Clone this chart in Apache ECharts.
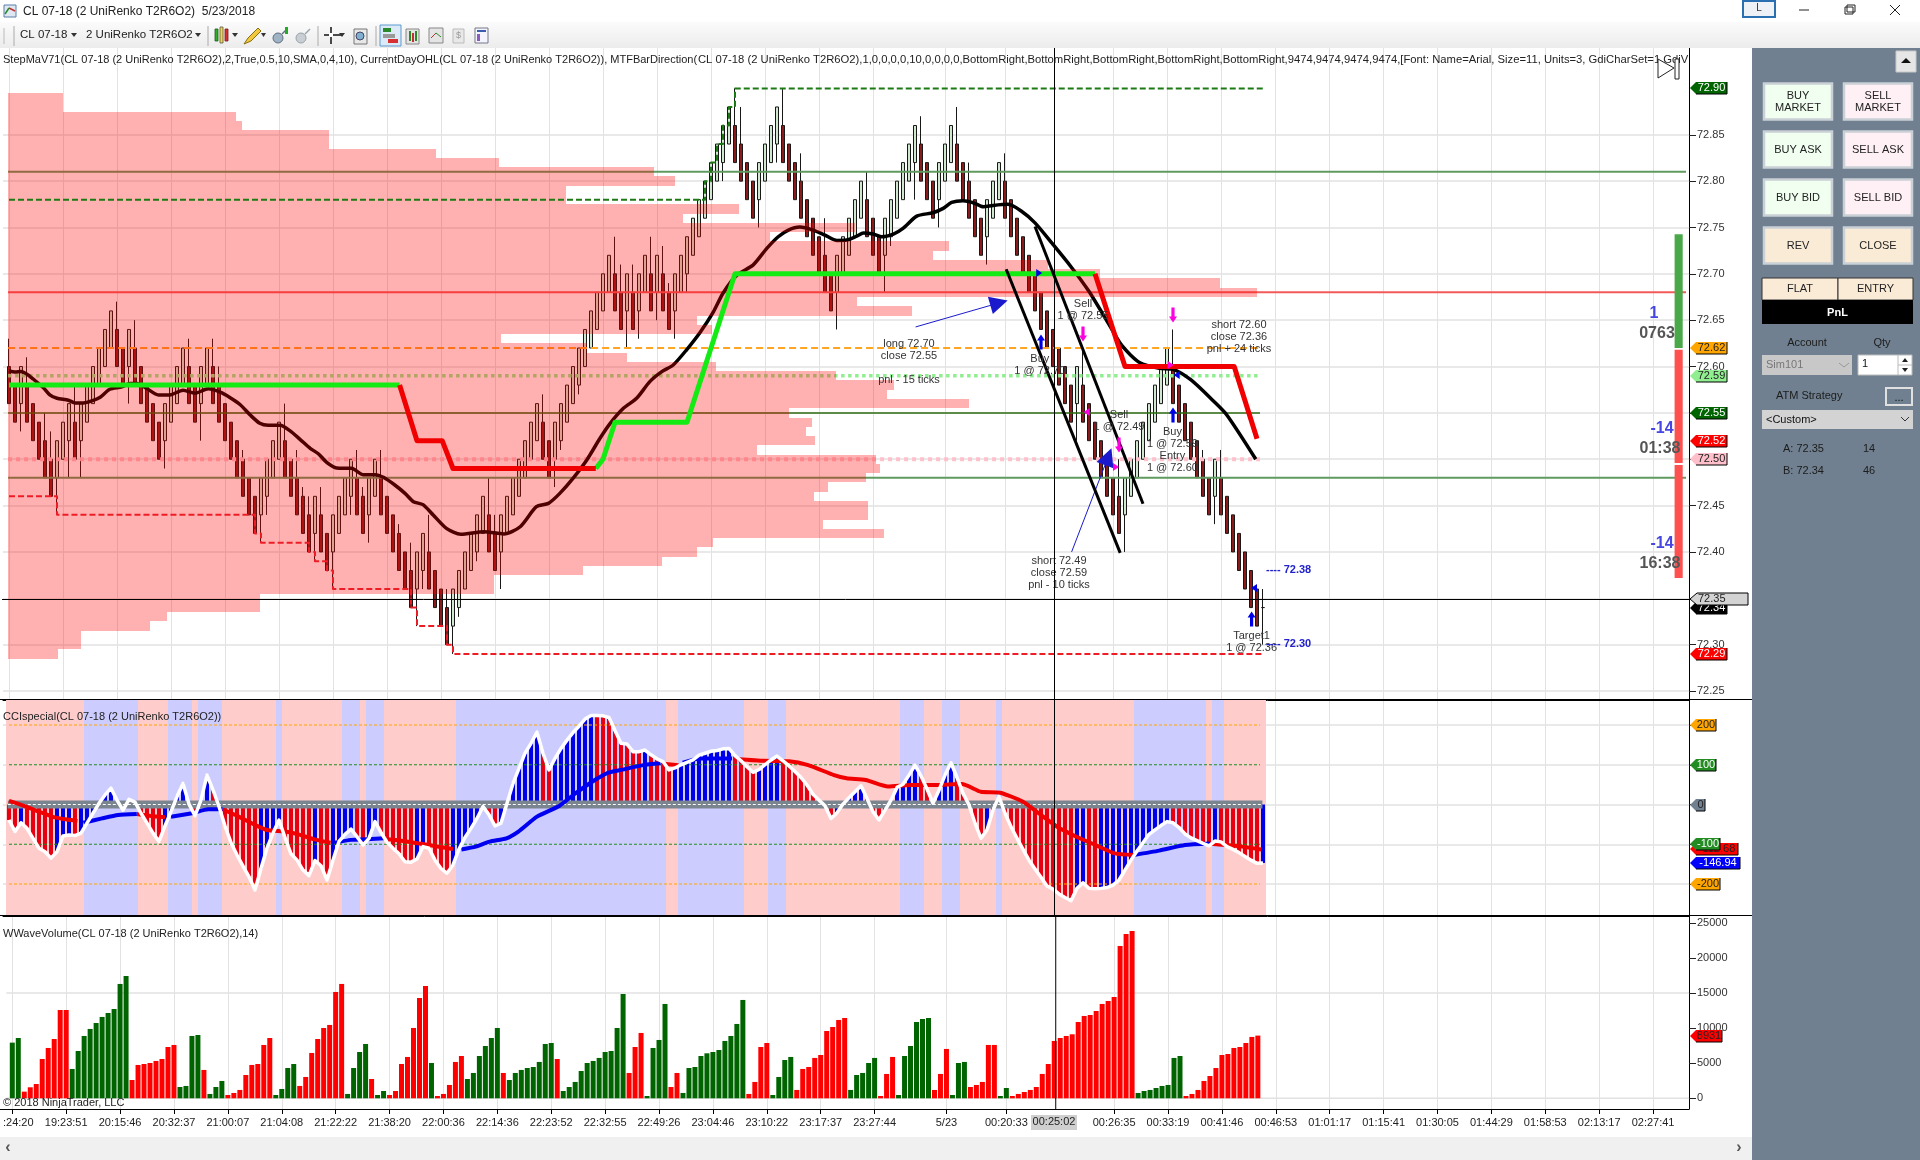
<!DOCTYPE html>
<html><head><meta charset="utf-8">
<style>html,body{margin:0;padding:0;background:#fff}#c{width:1920px;height:1160px}</style>
<script src="https://cdn.jsdelivr.net/npm/echarts@6/dist/echarts.min.js"></script>
</head><body><div id="c"></div>
<script>
// ---- candle data: prices as hundredths above 72.00
const opens=[60,58,56,58,56,54,52,50,48,50,52,54,52,54,56,58,60,62,64,62,60,62,60,58,56,54,52,54,56,58,60,58,56,58,60,58,56,54,52,50,48,46,44,46,48,50,52,50,48,46,44,42,44,42,40,42,44,46,48,46,44,46,48,46,44,42,40,38,36,38,40,38,36,34,32,34,36,38,40,42,44,42,40,42,44,46,48,50,52,54,52,50,52,54,56,58,60,62,64,66,68,70,68,66,68,66,68,70,68,70,68,66,68,70,72,74,76,78,80,82,84,86,84,82,80,78,80,82,84,86,84,82,80,78,76,74,72,70,68,70,72,74,76,78,76,74,72,74,76,78,80,82,84,82,80,78,80,82,84,82,80,78,76,74,76,78,80,78,76,74,72,70,68,66,64,62,60,58,56,58,56,54,52,50,48,46,44,46,48,50,52,54,56,58,60,58,56,54,52,50,48,46,48,46,44,42,40,38,36,34];
const closes=[56,54,60,54,52,50,48,46,52,54,56,50,56,58,60,62,64,66,60,58,64,58,56,54,52,50,56,58,60,62,56,54,60,62,56,54,52,50,48,46,44,42,48,50,52,54,48,46,44,42,40,46,40,38,44,46,48,50,44,42,48,50,44,42,40,38,36,34,40,42,36,34,32,30,36,38,40,42,44,46,40,38,44,46,48,50,52,54,56,50,48,54,56,58,60,62,64,66,68,70,72,66,64,70,64,70,72,66,72,66,64,70,72,74,76,78,80,82,84,86,88,82,80,78,76,82,84,86,88,82,80,78,76,74,72,70,68,66,72,74,76,78,80,74,72,70,76,78,80,82,84,86,80,78,76,82,84,86,80,78,76,74,72,78,80,82,76,74,72,70,68,66,64,62,60,58,56,54,60,54,52,50,48,46,44,42,48,50,52,54,56,58,60,62,56,54,52,50,48,46,44,50,44,42,40,38,36,34,32,34];
const wickHighs={0:63,3:61,6:55,7:53,11:58,18:67,21:65,30:63,34:63,35:60,39:51,46:56,48:51,49:47,50:46,52:47,58:51,59:47,62:51,65:43,67:41,70:44,73:36,80:48,81:44,89:57,101:74,102:71,104:71,107:74,109:73,110:69,121:90,122:88,129:90,132:83,136:76,143:81,152:87,158:88,160:82,166:83,179:62,185:50,194:64,199:51,202:51,209:36};
const wickLows={2:53,8:44,10:48,12:48,20:56,26:49,32:52,42:41,43:44,51:39,54:36,57:44,60:41,68:32,69:36,74:29,75:33,78:39,82:36,91:47,92:51,95:57,103:62,105:63,108:65,111:63,113:68,119:80,125:75,128:82,138:64,146:68,147:73,151:78,155:75,163:71,178:52,186:40,201:43,209:30};
// ---- black moving average [bar, price-cents]
const maPoints=[[0,59.53],[1,59.4],[2,59.46],[3,59.17],[4,58.67],[5.7,57.73],[6.8,56.94],[8,56.58],[9.9,56.37],[11,56.08],[12.4,56.08],[13.8,56.3],[15.2,56.69],[16.8,57.55],[18.8,57.8],[20.2,58.17],[21.3,58.17],[22.9,57.66],[24.9,56.94],[26.8,56.94],[29,57.45],[31,57.12],[33.2,57.6],[35.2,57.23],[36.8,56.66],[38.5,55.9],[40.2,54.77],[41.8,53.88],[43.2,53.66],[45.2,53.66],[46.8,53.08],[48.5,52.15],[50.2,51.18],[51.6,50.57],[53,49.63],[54.6,49.06],[57.1,49.02],[59,48.34],[61,48.34],[62.4,48.05],[64.3,47.22],[66,46.32],[67.4,45.42],[69,45.1],[70.7,43.99],[72.9,42.55],[75.3,41.9],[79.2,42.19],[82.5,41.94],[85.2,42.72],[87.9,44.88],[89.9,45.24],[91.8,46.32],[94,47.94],[96.3,49.92],[98.5,52.26],[100.2,53.87],[102.4,55.49],[104.6,56.57],[106.8,58.37],[108.8,59.45],[110.7,60.17],[112.9,61.78],[115.2,63.7],[117.4,65.9],[119,67.9],[121.3,69.86],[124,70.94],[126.3,72.74],[128.2,74],[129.9,74.72],[131.8,75.04],[134,74.72],[136,74.18],[138,73.6],[139.6,73.64],[141.3,74.07],[142.4,74.4],[144,74.29],[145.4,74],[147.4,74.29],[149,74.9],[151.3,76.23],[154,76.59],[155.7,77.06],[157.1,77.7],[159,77.88],[160.7,77.67],[162.4,77.23],[164,77.38],[166.5,77.5],[168.7,76.78],[171,75.5],[173.9,73.25],[176.9,70.85],[179.9,68.2],[183.2,64.7],[185.5,62.25],[188.5,60.4],[191.8,59.8],[194,59.7],[197,58.55],[200.7,56.3],[203,54.75],[207.8,50]];
// ---- StepMA thick line
const stepGreen=[[[0,58],[65.1,58]],[[97.8,49],[99,50],[101,54],[113,54],[121,70],[181,70]]];
const stepRed=[[[65.1,58],[68,52],[72.2,52],[74,49],[97.8,49]],[[181,70],[186,60],[204.2,60],[208,52.2]]];
// ---- current-day high / low steps
const dayHigh=[[0,78],[115,78],[116,80],[117,82],[118,84],[119,86],[120,88],[121,90],[209,90]];
const dayLow=[[0,46],[7,46],[8,44],[41,42],[42,41],[50,40],[51,39],[53,38],[54,36],[67,34],[68,32],[73,30],[74,29],[209,29]];
// ---- trend lines and arrows
const channelA=[[166.2,70.5],[185.2,39.9]];
const channelB=[[171,75.1],[189,45.2]];
const arrowA=[[151.1,64.27],[165,66.86]];
const arrowB=[[177.1,40],[183.2,50.27]];
// ---- volume profile, top row 72.89, one row per tick
const profileTop=72.89;
const profileVolume=[55,55,228,234,321,321,428,491,646,667,558,558,731,675,847,762,941,925,1040,1092,1212,1249,849,904,689,704,493,579,619,708,828,886,879,961,781,804,798,807,749,868,872,858,820,806,860,860,815,876,705,689,654,575,486,486,252,252,159,142,73,73,50];
// ---- CCI
const cciValues=[-39,-68,-46,-60,-85,-110,-119,-135,-119,-79,-77,-78,-72,-47,-22,3,24,41,11,-14,13,6,-22,-47,-72,-93,-54,-18,20,53,1,-28,11,74,37,-5,-54,-96,-127,-155,-182,-215,-161,-110,-72,-39,-83,-124,-140,-165,-179,-141,-154,-190,-140,-93,-75,-62,-81,-102,-85,-43,-70,-95,-110,-124,-144,-145,-137,-106,-110,-140,-161,-173,-152,-112,-83,-60,-35,-5,-26,-54,-47,3,53,91,129,154,182,129,87,116,141,162,181,197,215,224,224,223,219,186,154,152,133,133,137,125,115,108,87,92,100,106,112,124,129,134,136,140,141,123,110,95,81,88,100,112,122,110,97,83,68,49,26,11,-3,-35,-21,1,17,32,47,15,-18,-39,-14,11,43,51,74,99,72,39,3,36,74,105,68,28,-1,-47,-85,-64,-14,20,-22,-56,-85,-113,-140,-162,-183,-205,-213,-225,-234,-242,-211,-197,-211,-212,-211,-209,-203,-190,-165,-140,-117,-96,-75,-64,-53,-43,-46,-58,-74,-84,-91,-98,-104,-92,-94,-106,-113,-121,-131,-140,-148,-147];
const cciBandStarts=[0,13,22,27,31,32,36,45,46,56,59,60,63,75,110,112,123,127,130,149,153,156,159,165,166,188,200,201,203,210];
const cciMaRed=[[[0,9],[2.6,-4],[5,-18],[7.3,-31],[9.4,-37.3],[11.4,-41.5]],[[21.3,-24],[23.7,-29],[26,-32.3]],[[35.6,-12],[38.3,-30.6],[40.7,-49],[43,-64],[46,-68],[48.2,-75],[50.9,-87.6],[53.6,-96]],[[63.2,-87.6],[66.5,-93.5],[70,-102],[74,-112]],[[109.4,102],[111.6,99]],[[121.5,114],[125.8,110],[130,109],[133.2,99],[137.5,74],[139.6,66],[142.8,61.6],[146.5,45],[150.3,49],[154.5,49],[158.8,51.5],[162,32],[165.2,29.7],[169,7],[171.6,-22],[174.7,-56],[177.9,-81],[181.1,-102],[184.3,-123],[187.5,-127]],[[200.2,-99],[205.5,-106],[208.7,-113]]];
const cciMaBlue=[[[12.4,-46],[15.5,-35],[18.2,-26.5],[21.3,-24]],[[27,-30.6],[30.5,-22],[33.2,-12],[35.6,-12]],[[54.3,-96],[57,-89],[59.7,-87.6],[62.5,-85]],[[75.4,-113],[77.8,-106],[80.1,-93.5],[82.9,-85],[84.9,-68],[88,-30.6],[91.7,-3.7],[94.4,28],[97.2,57.4],[99.9,80],[102,87],[105.7,99],[108.6,103.5]],[[112.3,105],[115.2,116],[120.5,116]],[[187.5,-127],[191.7,-116],[196,-102],[200.2,-98]]];
// ---- volume
const volumes=[7930,8590,950,1570,2040,5600,7170,8450,12580,12580,4180,6740,8880,9880,10730,11590,12150,12720,16290,17420,2610,4750,4890,5030,5320,5600,7310,7600,1610,1760,8880,9020,4040,620,1610,2470,470,760,1190,3320,4750,4890,7600,8590,470,1330,4320,4890,1760,3040,6460,8450,10020,10450,15150,16290,620,4320,6600,7740,2750,470,1040,470,1040,4890,5890,10020,14290,16000,5030,330,620,1900,5180,6030,2750,3610,6030,7450,8590,10020,3610,2610,3610,4040,4320,4460,5180,7740,7880,5600,1040,1610,2330,3890,5030,5320,5750,6600,6740,10020,14860,3610,7310,9310,330,7170,8310,13440,1610,3610,760,4320,4460,6030,6410,6600,6880,8170,8880,10590,14010,620,2330,7310,7880,470,3040,5460,5890,1190,4180,4460,5750,6170,9590,10160,11160,11440,1190,3320,3610,5030,5750,330,3470,5890,470,6030,7450,10870,11300,11440,1190,3470,7030,470,5030,5180,1610,1900,2330,7600,7600,330,1470,330,620,900,1190,1610,3470,4890,8170,8590,8880,9120,10870,11730,11870,12440,13440,13860,14430,21700,23410,23830,760,1040,1190,1470,1760,1900,5750,6030,330,620,1190,2470,3180,4320,6170,6310,7170,7310,7880,8740,8931];
const volumeRedRuns=[[2,9],[20,27],[32,32],[36,43],[48,55],[60,60],[63,69],[71,75],[82,82],[91,91],[103,105],[110,111],[123,126],[131,139],[145,147],[154,156],[160,164],[167,187],[196,208]];
// ---- axes labels
const tickBars=[0,9,18,27,36,45,54,63,72,81,90,99,108,117,126,135,144,156,166,184,193,202,211,220,229,238,247,256,265,274];
const tickLabels=[':24:20','19:23:51','20:15:46','20:32:37','21:00:07','21:04:08','21:22:22','21:38:20','22:00:36','22:14:36','22:23:52','22:32:55','22:49:26','23:04:46','23:10:22','23:17:37','23:27:44','5/23','00:20:33','00:26:35','00:33:19','00:41:46','00:46:53','01:01:17','01:15:41','01:30:05','01:44:29','01:58:53','02:13:17','02:27:41'];
const priceTicks=[72.25,72.30,72.35,72.40,72.45,72.50,72.55,72.60,72.65,72.70,72.75,72.80,72.85];
const cciTicks=[-200,-100,0,100,200];
const volumeTicks=[0,5000,10000,15000,20000,25000];
// ---- axis value tags
const priceTags=[[72.90,'72.90','#006400','#fff'],[72.62,'72.62','#ffa500','#222'],[72.59,'72.59','#90ee90','#222'],[72.55,'72.55','#006400','#fff'],[72.52,'72.52','#ff0000','#fff'],[72.50,'72.50','#ffc0cb','#222'],[72.34,'72.34','#000','#fff'],[72.29,'72.29','#ff0000','#fff']];
const cciTags=[[200,'200','#ffa500','#222',26],[100,'100','#228b22','#fff',26],[0,'0','#708090','#222',15],[-112.68,'-112.68','#ff0000','#222',48],[-100,'-100','#228b22','#fff',30],[-146.94,'-146.94','#0000ff','#fff',50],[-200,'-200','#ffa500','#222',30]];
const volumeTags=[[8931,'8931','#ff0000','#222',32]];
// ---- trade marks
const upMarks=[[172,72.6265],[194,72.5477],[207.1,72.3277]];
const downMarks=[[179,72.635],[185,72.5154],[194,72.6556]];
const blueRightMarks=[[171.7,72.701]];
const blueLeftMarks=[[194.6,72.5909],[207.5,72.361]];
const pinkLeftMarks=[[179.6,72.551]];
const pinkRightMarks=[[184.5,72.4916],[193.6,72.6017]];
const notes=[[150,72.605,'long 72.70\nclose 72.55\n\npnl - 15 ticks'],[179,72.661,'Sell\n1 @ 72.55'],[171.8,72.602,'Buy\n1 @ 72.70'],[185,72.5413,'Sell\n1 @ 72.49'],[193.9,72.523,'Buy\n1 @ 72.59'],[193.9,72.497,'Entry\n1 @ 72.60'],[205,72.632,'short 72.60\nclose 72.36\npnl + 24 ticks'],[175,72.3773,'short 72.49\nclose 72.59\npnl - 10 ticks'],[207.1,72.3028,'Target1\n1 @ 72.36']];
const targetNotes=[[209.5,72.3806,'---- 72.38'],[209.5,72.3007,'---- 72.30']];
// ---- MTF direction blocks [top, bottom, colour]
const mtfBlocks=[[72.7426,72.62,'#4aa84a'],[72.618,72.496,'#ff5050'],[72.4938,72.372,'#ff5050']];
const crosshairBar=174.25, crosshairPrice=72.35, crosshairLinePrice=72.3487;

const F='"Liberation Sans",Arial,sans-serif';
const P=c=>(7200+c)/100;
const candleRows=opens.map((o,i)=>{const c=closes[i];
  const h=wickHighs[i]!==undefined?wickHighs[i]:Math.max(o,c);
  const l=wickLows[i]!==undefined?wickLows[i]:Math.min(o,c);
  return [i+1,P(o),P(c),P(l),P(h)];});
const toP=a=>a.map(p=>[p[0],P(p[1])]);
const K=282;
const tickMap={};tickBars.forEach((b,i)=>tickMap[b+1]=tickLabels[i]);
const cats=[];for(let k=0;k<K;k++){let t=tickMap[k]||'';cats.push(k===1?{value:t,textStyle:{padding:[0,0,0,12]}}:t);}
const showTick=k=>tickMap[k]!==undefined;
const GRID=[{left:3,width:1686,top:48,height:652},{left:3,width:1686,top:700,height:216},{left:3,width:1686,top:916,height:193}];
const GRIDLINE='#e2e2e2';
function catAxis(g,labels){return {type:'category',gridIndex:g,data:cats,boundaryGap:false,
  axisLine:{show:true,onZero:false,lineStyle:{color:'#000',width:1}},
  axisTick:{show:labels,length:5,interval:showTick,lineStyle:{color:'#000'}},
  axisLabel:{show:labels,interval:showTick,fontFamily:F,fontSize:11,color:'#222',margin:8,hideOverlap:false},
  splitLine:{show:true,interval:showTick,lineStyle:{color:GRIDLINE,width:1}}};}
function valAxis(g,min,max){return {type:'value',gridIndex:g,min,max,show:false,splitLine:{show:false}};}
const xAxis=[catAxis(0,false),catAxis(1,false),catAxis(2,true),valAxis(0,-1,280),valAxis(1,-1,280),valAxis(2,-1,280),valAxis(0,-5,1681)];
function yAx(g,min,max,ticks,fmt,split,label){return {type:'value',gridIndex:g,position:'right',min,max,scale:true,
  axisLine:{show:true,onZero:false,lineStyle:{color:'#000',width:1}},
  axisTick:{show:true,length:7,customValues:ticks,lineStyle:{color:'#222'}},
  axisLabel:{show:label,customValues:ticks,formatter:fmt,fontFamily:F,fontSize:11,color:'#333',margin:8,showMinLabel:true,showMaxLabel:true},
  splitLine:{show:split,lineStyle:{color:GRIDLINE,width:1.5}}};}
const yAxis=[yAx(0,72.2403,72.9436,priceTicks,v=>v.toFixed(2),true,true),
             yAx(1,-280.5,262.9,cciTicks,v=>''+v,true,false),
             yAx(2,-1524,25969,volumeTicks,v=>''+v,false,true)];
const VX=[3,4,5],PROF=6;
function ln(g,pts,color,width,opt){opt=opt||{};return {type:'line',xAxisIndex:VX[g],yAxisIndex:g,data:pts,showSymbol:false,symbol:'none',silent:true,
  clip:opt.clip!==false,smooth:opt.smooth||false,step:opt.step||false,z:opt.z||4,
  lineStyle:{color,width,type:opt.dash||'solid',cap:'butt',join:'round'}};}
const END=208.5, LEFT=-0.15;
const series=[];
// candles
series.push({type:'candlestick',xAxisIndex:0,yAxisIndex:0,data:candleRows,barWidth:3,z:3,silent:true,
  encode:{x:0,y:[1,2,3,4]},
  itemStyle:{color:'#cfe8cf',color0:'#8b1a1a',borderColor:'#181818',borderColor0:'#181818',borderWidth:1}});
// horizontal levels
series.push(ln(0,[[LEFT,72.81],[279.5,72.81]],'#5f9a5f',2));
series.push(ln(0,[[LEFT,72.68],[279.5,72.68]],'#f25a5a',2));
series.push(ln(0,[[LEFT,72.62],[END,72.62]],'#ffa51f',2,{dash:[7,4]}));
series.push(ln(0,[[LEFT,72.59],[END,72.59]],'#90ee90',3.5,{dash:[3.5,3.5]}));
series.push(ln(0,[[LEFT,72.55],[END,72.55]],'#2d6d12',1.5));
series.push(ln(0,[[LEFT,72.50],[END,72.50]],'#ffc0cb',4,{dash:[4,4]}));
series.push(ln(0,[[LEFT,72.48],[279.5,72.48]],'#5f9a5f',2));
// moving average
series.push(ln(0,toP(maPoints),'#000',3.5,{smooth:0.25,z:4}));
// profile overlay
series.push({type:'custom',xAxisIndex:PROF,yAxisIndex:0,silent:true,z:5,
  data:profileVolume.map((v,i)=>[v,(Math.round(profileTop*100)-i)/100]),
  renderItem(params,api){const a=api.coord([0,api.value(1)+0.005]),b=api.coord([api.value(0),api.value(1)-0.005]);
    const y0=Math.round(a[1]),y1=Math.round(b[1]);
    return {type:'rect',shape:{x:Math.round(a[0]),y:y0,width:Math.round(b[0]-a[0]),height:y1-y0},style:{fill:'rgba(255,0,0,0.31)'}};}});
series.push(ln(0,toP(dayHigh),'#1c7a14',2,{dash:[6,3],step:'end',z:6}));
series.push(ln(0,toP(dayLow),'#ee1c25',2,{dash:[6,3],step:'end',z:6}));
stepGreen.forEach(s=>series.push(ln(0,toP(s),'#14ea14',5,{z:6})));
stepRed.forEach(s=>series.push(ln(0,toP(s),'#f00000',5,{z:6})));
series.push(ln(0,toP(channelA),'#000',3,{z:6}));
series.push(ln(0,toP(channelB),'#000',3,{z:6}));
series.push({type:'lines',coordinateSystem:'cartesian2d',xAxisIndex:3,yAxisIndex:0,z:6,silent:true,symbol:['none','triangle'],symbolSize:[15,18],polyline:false,
  lineStyle:{color:'#1a1acc',width:1,opacity:1},
  data:[{coords:toP(arrowA)},{coords:toP(arrowB)}]});
// MTF blocks
series.push({type:'custom',xAxisIndex:3,yAxisIndex:0,silent:true,z:6,data:mtfBlocks.map(b=>[277.6,b[0],b[1]]),
  renderItem(params,api){const a=api.coord([277.6,api.value(1)]),b=api.coord([278.95,api.value(2)]);
    return {type:'rect',shape:{x:a[0],y:a[1],width:b[0]-a[0],height:b[1]-a[1]},style:{fill:mtfBlocks[params.dataIndex][2]}};}});
// trade marks
const UP='path://M4 0 L8 6 L5.6 6 L5.6 15 L2.4 15 L2.4 6 L0 6 Z';
function marks(data,symbol,size,color,rot){return {type:'scatter',xAxisIndex:3,yAxisIndex:0,data,symbol,symbolSize:size,symbolRotate:rot||0,silent:true,z:7,itemStyle:{color,opacity:1}};}
series.push(marks(upMarks,UP,[8,15],'#0000e6'));
series.push(marks(downMarks,UP,[8,15],'#ff00e0',180));
series.push(marks(blueRightMarks,'triangle',[8,6],'#0000e6',-90));
series.push(marks(blueLeftMarks,'triangle',[8,6],'#0000e6',90));
series.push(marks(pinkLeftMarks,'triangle',[8,6],'#ff00e0',90));
series.push(marks(pinkRightMarks,'triangle',[8,6],'#ff00e0',-90));
// text notes
series.push({type:'custom',xAxisIndex:3,yAxisIndex:0,silent:true,z:8,data:notes.map(n=>[n[0],n[1]]),
  renderItem(params,api){const p=api.coord([api.value(0),api.value(1)]);
    return {type:'text',style:{text:notes[params.dataIndex][2],x:p[0],y:p[1],fill:'#333',font:'11px '+F,align:'center',verticalAlign:'middle',lineHeight:12}};}});
series.push({type:'custom',xAxisIndex:3,yAxisIndex:0,silent:true,z:8,data:targetNotes.map(n=>[n[0],n[1]]),
  renderItem(params,api){const p=api.coord([api.value(0),api.value(1)]);
    return {type:'text',style:{text:targetNotes[params.dataIndex][2],x:p[0],y:p[1],fill:'#2222cc',font:'bold 11px '+F,align:'left',verticalAlign:'middle'}};}});
// crosshair
series.push(ln(0,[[crosshairBar,72.2403],[crosshairBar,72.9436]],'#000',1,{z:9}));
series.push(ln(1,[[crosshairBar,-280.5],[crosshairBar,262.9]],'#000',1,{z:9}));
series.push(ln(2,[[crosshairBar,-1524],[crosshairBar,25969]],'#000',1,{z:9}));
series.push(ln(0,[[-1.3,crosshairLinePrice],[280.2,crosshairLinePrice]],'#000',1,{z:9,clip:false}));
// tags
function tagSeries(axisY,tags){return {type:'custom',xAxisIndex:VX[axisY],yAxisIndex:axisY,silent:true,z:10,clip:false,
  data:tags.map(t=>[280,t[0]]),
  renderItem(params,api){const t=tags[params.dataIndex];const p=api.coord([280,api.value(1)]);
    const x0=p[0]+1,y=Math.round(p[1]),w=t[4]||37,x1=x0+w;const hh=6;
    return {type:'group',children:[
      {type:'polygon',shape:{points:[[x0,y],[x0+6,y-hh],[x1,y-hh],[x1,y+hh],[x0+6,y+hh]]},style:{fill:t[2]}},
      {type:'polyline',shape:{points:[[x0+6,y+hh],[x1,y+hh],[x1,y-hh]]},style:{stroke:'#000',lineWidth:1,fill:null}},
      {type:'text',style:{text:t[1],x:x0+6+(w-6)/2,y,fill:t[3],font:'11px '+F,align:'center',verticalAlign:'middle'}}]};}};}
series.push(tagSeries(0,priceTags));
series.push({type:'custom',xAxisIndex:3,yAxisIndex:0,silent:true,z:11,clip:false,data:[[280,crosshairPrice]],
  renderItem(params,api){const p=api.coord([280,api.value(1)]);const x0=p[0]+1,y=Math.round(p[1])+1;
    return {type:'group',children:[{type:'polygon',shape:{points:[[x0,y],[x0+7,y-6],[x0+58,y-6],[x0+58,y+6],[x0+7,y+6]]},style:{fill:'#d3d3d3',stroke:'#000',lineWidth:1}},
      {type:'text',style:{text:crosshairPrice.toFixed(2),x:x0+8,y,fill:'#222',font:'11px '+F,align:'left',verticalAlign:'middle'}}]};}});
// ---- CCI
series.push({type:'custom',xAxisIndex:4,yAxisIndex:1,silent:true,z:1,
  data:cciBandStarts.slice(0,-1).map((s,i)=>[s,cciBandStarts[i+1]]),
  renderItem(params,api){const a=api.coord([api.value(0)-0.5,262.9]),b=api.coord([api.value(1)-0.5,-280.5]);
    const xa=Math.round(a[0]),xb=Math.round(b[0]);
    return {type:'rect',shape:{x:xa,y:a[1],width:xb-xa,height:b[1]-a[1]},style:{fill:params.dataIndex%2?'#ccccff':'#ffcccc'}};}});
series.push({type:'bar',xAxisIndex:1,yAxisIndex:1,barWidth:4,silent:true,z:2,
  data:cciValues.map((v,i)=>({value:[i+1,v],itemStyle:{color:(i>0&&v>cciValues[i-1])?'#0000e6':'#e60012'}}))});
series.push(ln(1,[[0,200],[END,200]],'#ffa500',1,{dash:[3,2],z:3}));
series.push(ln(1,[[0,-200],[END,-200]],'#ffa500',1,{dash:[3,2],z:3}));
series.push(ln(1,[[0,100],[END,100]],'#228b22',1,{dash:[3,2],z:3}));
series.push(ln(1,[[0,-100],[END,-100]],'#228b22',1,{dash:[3,2],z:3}));
series.push(ln(1,[[-0.2,0],[208.9,0]],'#7a8590',8,{z:3}));
series.push(ln(1,[[-0.2,0],[208.9,0]],'#fff',1,{z:3,dash:[3,2]}));
cciMaRed.forEach(s=>series.push(ln(1,s,'#f00000',4,{z:4,smooth:0.2})));
cciMaBlue.forEach(s=>series.push(ln(1,s,'#0000f0',4,{z:4,smooth:0.2})));
series.push(ln(1,cciValues.map((v,i)=>[i,v]),'#fff',3.5,{z:5}));
series.push(tagSeries(1,cciTags));
// ---- Volume
const isRed=i=>volumeRedRuns.some(r=>i>=r[0]&&i<=r[1]);
series.push({type:'bar',xAxisIndex:2,yAxisIndex:2,barWidth:5,silent:true,z:2,
  data:volumes.map((v,i)=>({value:[i+1,v],itemStyle:{color:isRed(i)?'#ff0000':'#006400'}}))});
series.push(ln(2,[[-1,15000],[280,15000]],GRIDLINE,1.5,{z:1}));
series.push(ln(2,[[-1,0],[280,0]],GRIDLINE,1.5,{z:1}));
series.push(tagSeries(2,volumeTags));

// ---- chrome
const els=[];
function R(x,y,w,h,fill,stroke,lw){els.push({type:'rect',shape:{x,y,width:w,height:h},style:{fill,stroke:stroke||null,lineWidth:lw||0},silent:true});}
function T(x,y,text,o){o=o||{};els.push({type:'text',x,y,silent:true,style:{text,fill:o.c||'#222',font:(o.w?o.w+' ':'')+(o.s||11)+'px '+F,align:o.a||'left',verticalAlign:'middle',lineHeight:o.lh}});}
function L(x1,y1,x2,y2,c,lw){els.push({type:'line',shape:{x1,y1,x2,y2},style:{stroke:c||'#000',lineWidth:lw||1},silent:true});}
function Pg(pts,fill,stroke){els.push({type:'polygon',shape:{points:pts},style:{fill:fill||null,stroke:stroke||null,lineWidth:1},silent:true});}
// header
R(0,0,1920,22,'#fff');
R(0,22,1920,26,{type:'linear',x:0,y:0,x2:0,y2:1,colorStops:[{offset:0,color:'#fbfbfb'},{offset:1,color:'#ececec'}]});
R(4,5,12,12,'#dfe8f2','#5a7ea8',1);L(5,14,9,8,'#2a8a2a',1.5);L(9,8,15,11,'#c03030',1.5);
T(23,12,'CL 07-18 (2 UniRenko T2R6O2)  5/23/2018',{s:12,c:'#222'});
L(4,28,4,44,'#bbb',1);L(14,26,14,46,'#aaa',1);
T(20,35,'CL 07-18',{s:11.5,c:'#222'});Pg([[71,33],[77,33],[74,37]],'#333');
T(86,35,'2 UniRenko T2R6O2',{s:11.5,c:'#222'});Pg([[195,33],[201,33],[198,37]],'#333');
L(208,26,208,46,'#aaa',1);
R(215,29,3,12,'#2fae2f','#1b5e1b',.8);R(220,27,3,16,'#f2d848','#555',.8);R(225,29,3,12,'#d83030','#7a1c1c',.8);Pg([[232,33],[238,33],[235,37]],'#333');
Pg([[244,44],[248,38],[258,28],[261,31],[251,41]],'#f2c93c','#8a6d10');Pg([[261,33],[266,33],[263.5,37]],'#333');
els.push({type:'circle',shape:{cx:278,cy:38,r:5},style:{fill:'#9fb3c4',stroke:'#607080'},silent:true});L(282,34,287,29,'#607080',1.5);R(285,27,3,7,'#22aa22');
els.push({type:'circle',shape:{cx:301,cy:38,r:5},style:{fill:'#c8ced3',stroke:'#9aa3aa'},silent:true});L(305,34,310,29,'#9aa3aa',1.5);
L(318,26,318,46,'#aaa',1);
L(324,35,343,35,'#111',1.5);L(331,27,331,44,'#111',1.5);R(329,33,4,4,'#fff');Pg([[339,33],[345,33],[342,37]],'#333');
R(354,29,13,15,'#e8e8e8','#777',1);els.push({type:'circle',shape:{cx:360,cy:36,r:4},style:{fill:'#7fb0d0',stroke:'#446'},silent:true});
L(376,26,376,46,'#aaa',1);
R(380,25,21,21,'#dbeaf6','#5a9bd0',1);R(383,28,8,4,'#2a8a2a');R(383,34,12,4,'#999');R(388,39,10,4,'#d83030');
R(406,29,13,15,'#e4e4e4','#888',1);R(409,31,2,10,'#2a8a2a');R(412,33,2,9,'#c03030');R(415,31,2,10,'#2a8a2a');
R(429,28,14,15,'#e4e4e4','#888',1);L(431,38,436,33,'#c03030',1);L(436,33,441,37,'#2a8a2a',1);
R(453,29,11,14,'#e8e8e8','#bbb',1);T(458.5,36,'$',{s:9,c:'#999',a:'center'});
R(475,28,13,15,'#f4f4ff','#778',1);R(477,30,9,2,'#3b5db0');R(477,34,3,7,'#8a5ac0');
// window buttons
R(1743,1,32,16,'#eef2f7','#2a6fb0',2);T(1759,8,'L',{s:10,a:'center',c:'#333'});
L(1799,10,1809,10,'#222',1);R(1845,7,8,7,'#fff','#222',1);R(1847,5,8,7,null,'#222',1);L(1890,5,1900,15,'#222',1);L(1890,15,1900,5,'#222',1);
// indicator captions
T(3,60,'StepMaV71(CL 07-18 (2 UniRenko T2R6O2),2,True,0.5,10,SMA,0,4,10), CurrentDayOHL(CL 07-18 (2 UniRenko T2R6O2)), MTFBarDirection(',{c:'#222'});
T(698,60,'CL 07-18 (2 UniRenko T2R6O2),1,0,0,0,0,10,0,0,0,0,BottomRight,BottomRight,BottomRight,BottomRight,BottomRight,9474,9474,9474,9474,[Font: Name=Arial, Size=11, Units=3, GdiCharSet=1,GdiV',{c:'#222',s:11.25});
T(3,717,'CCIspecial(CL 07-18 (2 UniRenko T2R6O2))',{c:'#222'});
T(3,934,'WWaveVolume(CL 07-18 (2 UniRenko T2R6O2),14)',{c:'#222'});
T(3,1103,'© 2018 NinjaTrader, LLC',{c:'#222'});
// panel dividers
L(0,699.5,1752,699.5,'#000',1);L(0,915.5,1752,915.5,'#000',1);L(0,1109.5,1689,1109.5,'#000',1);
// forward icon
Pg([[1658,59],[1674,68],[1658,78]],'#fff','#222');R(1675,59,4,20,'#fff','#222',1);
// stat text
T(1654,314,'1',{s:16,w:'bold',c:'#4646e0',a:'center'});T(1657,334,'0763',{s:16,w:'bold',c:'#555',a:'center'});
T(1662,429,'-14',{s:16,w:'bold',c:'#4646e0',a:'center'});T(1660,449,'01:38',{s:16,w:'bold',c:'#555',a:'center'});
T(1662,544,'-14',{s:16,w:'bold',c:'#4646e0',a:'center'});T(1660,564,'16:38',{s:16,w:'bold',c:'#555',a:'center'});
// crosshair time
R(1031,1115,46,15,'#cfcfcf');T(1054,1122,'00:25:02',{a:'center',c:'#222'});
// scrollbar
R(0,1137,1752,23,'#f0f0f0');T(8,1148,'‹',{s:16,a:'center',c:'#555',w:'bold'});T(1739,1148,'›',{s:16,a:'center',c:'#555',w:'bold'});
// right panel
R(1752,48,168,1112,'#708090');
R(1896,51,20,21,'#e6e6e6','#c8c8c8',1);Pg([[1901,63],[1911,63],[1906,58]],'#111');
function Btn(x,y,w,h,fill,label){R(x,y,w,h,fill,'#c9d0d6',2.5);T(x+w/2,y+h/2,label,{a:'center',s:11,c:'#222',lh:12});}
[['BUY\nMARKET','SELL\nMARKET',83.5,'#f0fff0','#fff0f5'],['BUY ASK','SELL ASK',131.5,'#f0fff0','#fff0f5'],['BUY BID','SELL BID',179.5,'#f0fff0','#fff0f5'],['REV','CLOSE',227.5,'#faebd7','#faebd7']].forEach(r=>{Btn(1764,r[2],68,36,r[3],r[0]);Btn(1844,r[2],68,36,r[4],r[1]);});
R(1762,278,76,22,'#faebd7','#333',1);T(1800,289,'FLAT',{a:'center'});
R(1838,278,75,22,'#faebd7','#333',1);T(1875.5,289,'ENTRY',{a:'center'});
R(1762,300,151,24,'#000');T(1837.5,313,'PnL',{a:'center',c:'#fff',w:'bold'});
T(1807,343,'Account',{a:'center',c:'#1c1c1c'});T(1882,343,'Qty',{a:'center',c:'#1c1c1c'});
R(1762,355,90,20,'#c8c8c8');T(1766,365,'Sim101',{c:'#777'});L(1839,363,1844,367,'#999',1);L(1844,367,1849,363,'#999',1);
R(1858,355,54,20,'#fff','#bbb',1);T(1862,364,'1',{c:'#111'});L(1898,355,1898,375,'#bbb',1);L(1898,365,1912,365,'#bbb',1);Pg([[1902,362],[1908,362],[1905,358]],'#222');Pg([[1902,368],[1908,368],[1905,372]],'#222');
T(1776,396,'ATM Strategy',{c:'#1c1c1c'});R(1886,388,26,17,'#708090','#e0e0e0',2);T(1899,398,'...',{a:'center',c:'#111'});
R(1762,410,151,19,'#d3d3d3');T(1766,420,'<Custom>',{c:'#111'});L(1901,417,1905,421,'#333',1);L(1905,421,1909,417,'#333',1);
T(1783,449,'A: 72.35',{c:'#1c1c1c'});T(1869,449,'14',{a:'center',c:'#1c1c1c'});
T(1783,471,'B: 72.34',{c:'#1c1c1c'});T(1869,471,'46',{a:'center',c:'#1c1c1c'});
els.forEach(e=>{e.z=50;});

const chart=echarts.init(document.getElementById('c'),null,{renderer:'canvas',width:1920,height:1160});
chart.setOption({animation:false,backgroundColor:'#fff',tooltip:{show:false},legend:{show:false},grid:GRID.map(g=>Object.assign({show:false,containLabel:false},g)),xAxis,yAxis,series,graphic:{elements:els}});
</script></body></html>
